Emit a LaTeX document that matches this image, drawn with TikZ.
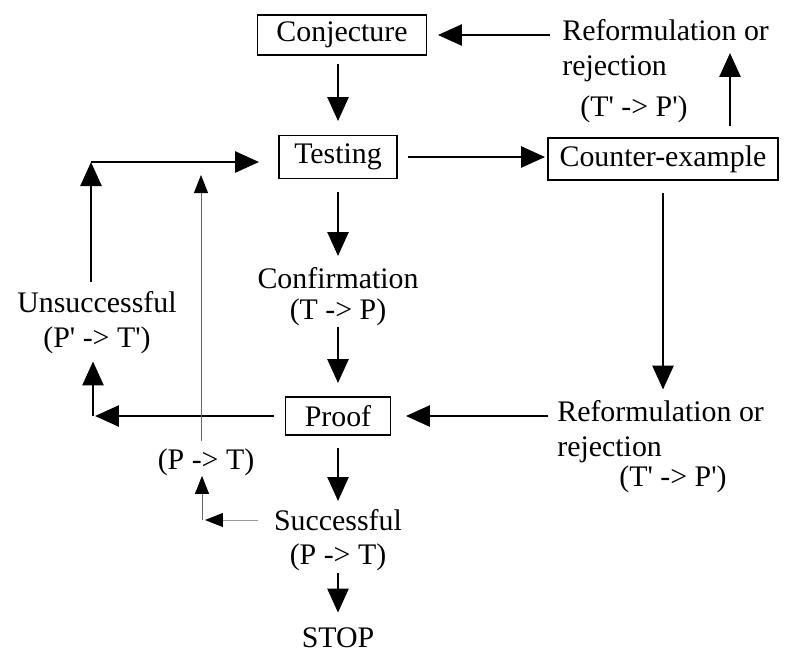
\documentclass[tikz,border=0pt]{standalone}
\usepackage{fontspec}
\setmainfont{Liberation Serif}[Ligatures=TeXOff]
\usetikzlibrary{arrows.meta}

\begin{document}
\begin{tikzpicture}[x=0.02cm,y=-0.02cm,font=\fontsize{17}{19.8}\selectfont]
\tikzstyle{arrow} = [-{Triangle[length=0.48cm,width=0.42cm]},line width=1.5pt]
\tikzstyle{thinarrow} = [-{Triangle[length=0.36cm,width=0.28cm,color=black]},line width=0.5pt,black!60]
\tikzstyle{box} = [draw,line width=1.1pt,inner sep=0pt]
\tikzstyle{lbl} = [inner sep=0pt]

\useasboundingbox (0,0) rectangle (804,653);

% nodes
\node[box,minimum width=3.38cm,minimum height=0.8cm] (conj) at (342,35) {Conjecture};
\node[box,minimum width=2.36cm,minimum height=0.86cm] (test) at (338,157) {Testing};
\node[box,minimum width=4.6cm,minimum height=0.84cm] (counter) at (663,159) {Counter-example};
\node[box,minimum width=2.1cm,minimum height=0.76cm] (proof) at (338,416) {Proof};

\node[lbl,align=left,anchor=west] (reformTop) at (562,51) {Reformulation or\\rejection};
\node[lbl] (reformTopPT) at (634,109) {(T' -> P')};
\node[lbl] (confirm) at (338,278) {Confirmation};
\node[lbl] (confirmPT) at (338,312) {(T -> P)};
\node[lbl,align=center] (unsucc) at (97,323) {Unsuccessful\\(P' -> T')};
\node[lbl,align=left,anchor=west] (reformBot) at (557,432) {Reformulation or\\rejection};
\node[lbl] (reformBotPT) at (673,479) {(T' -> P')};
\node[lbl] (leftPT) at (206,462) {(P -> T)};
\node[lbl] (succ) at (338,520) {Successful};
\node[lbl] (succPT) at (338,557) {(P -> T)};
\node[lbl] (stop) at (338,638) {STOP};

% corners
\coordinate (upTip) at (730,53);
\coordinate (upCorner) at (91,162);
\coordinate (lowCorner) at (93,416);
\coordinate (succCorner) at (202,520);
\coordinate (backTip) at (201,175);

% arrows
\draw [arrow,shorten <=0.24cm,shorten >=0.21cm] (reformTop.west |- conj) -- (conj.east);
\draw [arrow,shorten <=0.16cm,shorten >=0.27cm] (conj.south -| test) -- (test.north);
\draw [arrow,shorten <=0.2cm,shorten >=0.04cm] (test.east) -- (test.east -| counter.west);
\draw [arrow,shorten <=0.22cm] (counter.north -| upTip) -- (upTip);
\draw [arrow,shorten <=0.25cm,shorten >=0.22cm] (test) -- (confirm);
\draw [arrow,shorten <=0.02cm,shorten >=0.26cm] (confirmPT) -- (proof);
\draw [arrow,shorten <=0.24cm,shorten >=0.22cm] (counter.south) -- (counter.south |- reformBot.north);
\draw [arrow,shorten <=0.18cm,shorten >=0.29cm] (reformBot.west |- proof) -- (proof.east);
\draw [arrow,shorten <=0.21cm,shorten >=0.04cm] (proof.west) -- (lowCorner);
\draw [arrow,shorten >=0.14cm] (lowCorner) -- (lowCorner |- unsucc.south);
\draw [arrow,shorten <=0.2cm] (unsucc.north -| upCorner) -- (upCorner);
\draw [arrow,shorten >=0.38cm] (upCorner) -- (upCorner -| test.west);
\draw [arrow,shorten <=0.24cm,shorten >=0.16cm] (proof) -- (succ);
\draw [arrow,shorten <=0.04cm,shorten >=0.3cm] (succPT) -- (stop);

\draw [thinarrow,black!40,shorten <=0.32cm,shorten >=0.06cm] (succ.west) -- (succCorner);
\draw [thinarrow] (succCorner) -- (succCorner |- leftPT.south);
\draw [thinarrow,shorten <=0.14cm] (leftPT.north -| backTip) -- (backTip);

\end{tikzpicture}
\end{document}
